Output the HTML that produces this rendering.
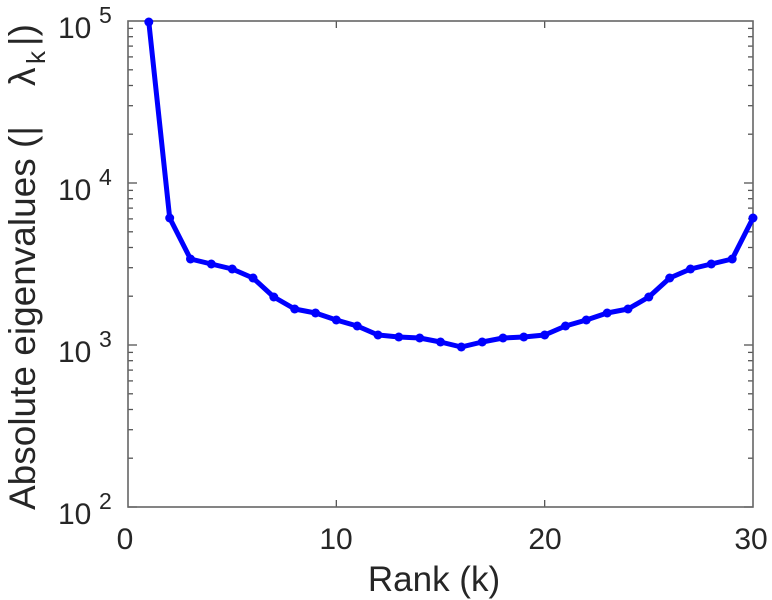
<!DOCTYPE html>
<html><head><meta charset="utf-8"><style>html,body{margin:0;padding:0;background:#fff}svg{display:block}</style></head>
<body>
<svg id="s" width="772" height="600" viewBox="0 0 772 600" xmlns="http://www.w3.org/2000/svg" font-family="Liberation Sans, sans-serif">
<g id="ticks" stroke="#555" stroke-width="1.3"></g>
<rect x="128" y="21" width="625" height="486" fill="none" stroke="#666" stroke-width="1.6"/>
<polyline id="line" fill="none" stroke="#0000ff" stroke-width="5" stroke-linejoin="round"/>
<g id="marks" fill="#0000ff"></g>
<g fill="#262626" font-size="30">
<text x="125" y="549" text-anchor="middle">0</text>
<text x="336" y="549" text-anchor="middle">10</text>
<text x="545" y="549" text-anchor="middle">20</text>
<text x="751" y="549" text-anchor="middle">30</text>
<text x="58" y="38">10</text><text x="99" y="23" font-size="23">5</text>
<text x="58" y="200">10</text><text x="99" y="185" font-size="23">4</text>
<text x="58" y="362">10</text><text x="99" y="347" font-size="23">3</text>
<text x="58" y="524">10</text><text x="99" y="509" font-size="23">2</text>
<text x="434" y="591" text-anchor="middle" font-size="35">Rank (k)</text>
<text transform="translate(35,510) rotate(-90)" font-size="37">Absolute eigenvalues (|</text>
<text transform="translate(35,86) rotate(-90)" font-size="37">λ</text>
<text transform="translate(45,64) rotate(-90)" font-size="26">k</text>
<text transform="translate(35,46) rotate(-90)" font-size="37">|)</text>
</g>
</svg>
<script>
var ys=[22,218,259,264,269,278,297,309,313,320,326,335,337,338,342,347,342,338,337,335,326,320,313,309,297,278,269,264,259,218];
var pts=[],m='';
for(var i=0;i<30;i++){var x=128+(i+1)*625/30;pts.push(x.toFixed(1)+','+ys[i]);m+='<circle cx="'+x.toFixed(1)+'" cy="'+ys[i]+'" r="4.5"/>';}
document.getElementById('line').setAttribute('points',pts.join(' '));
document.getElementById('marks').innerHTML=m;
var t='';
for(var d=0;d<3;d++){for(var k=1;k<=9;k++){var y=507-162*(d+Math.log10(k));var L=(k==1)?9:5;
t+='<line x1="128" x2="'+(128+L)+'" y1="'+y.toFixed(1)+'" y2="'+y.toFixed(1)+'"/>';
t+='<line x1="753" x2="'+(753-L)+'" y1="'+y.toFixed(1)+'" y2="'+y.toFixed(1)+'"/>';}}
[10,20].forEach(function(v){var x=128+v*625/30;t+='<line x1="'+x+'" x2="'+x+'" y1="507" y2="500"/><line x1="'+x+'" x2="'+x+'" y1="21" y2="28"/>';});
document.getElementById('ticks').innerHTML=t;
</script>
</body></html>
